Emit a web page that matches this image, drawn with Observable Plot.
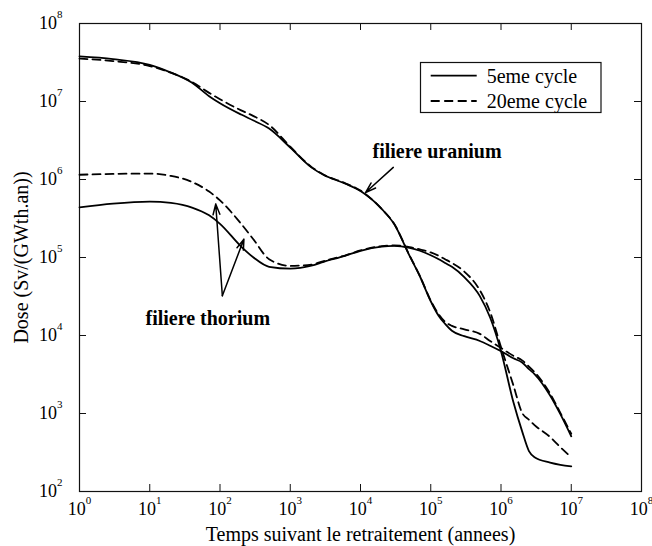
<!DOCTYPE html>
<html>
<head>
<meta charset="utf-8">
<script src="https://cdn.jsdelivr.net/npm/d3@7"></script>
<script src="https://cdn.jsdelivr.net/npm/@observablehq/plot@0.6"></script>
<style>
  body { margin: 0; background: #fff; }
  #chart { width: 652px; height: 546px; }
</style>
</head>
<body>
<div id="chart"></div>
<script>
// ---- data ----
const years = [1, 3, 10, 20, 40, 70, 100, 200, 300, 500, 1e3, 2e3, 3e3, 6e3, 1e4, 2e4, 3e4, 5e4, 7e4, 1e5,
               1.3e5, 1.6e5, 2e5, 3e5, 5e5, 7e5, 1e6, 1.5e6, 2e6, 2.5e6, 3e6, 5e6, 7e6, 1e7];
const uranium5 = [3.78e7, 3.5e7, 2.95e7, 2.35e7, 1.74e7, 1.17e7, 9.5e6, 6.8e6, 5.7e6, 4.5e6, 2.57e6, 1.43e6, 1.14e6,
                  8.9e5, 7.1e5, 4.2e5, 2.7e5, 1.05e5, 5.75e4, 2.75e4, 1.78e4, 1.41e4, 1.15e4, 9.8e3, 8.5e3, 7.4e3,
                  6.3e3, 5.1e3, 4.5e3, 3.7e3, 3.2e3, 1.7e3, 980, 510];
const uranium20 = [3.55e7, 3.3e7, 2.85e7, 2.34e7, 1.78e7, 1.29e7, 1.07e7, 7.7e6, 6.5e6, 5.0e6, 2.63e6, 1.45e6, 1.15e6,
                   9.0e5, 7.2e5, 4.2e5, 2.72e5, 1.06e5, 5.8e4, 2.8e4, 1.86e4, 1.5e4, 1.33e4, 1.2e4, 1.05e4, 8.5e3,
                   6.9e3, 5.5e3, 4.8e3, 4.0e3, 3.4e3, 1.8e3, 1.02e3, 550];
const thorium5 = [4.38e5, 4.9e5, 5.2e5, 5.0e5, 4.37e5, 3.47e5, 2.7e5, 1.38e5, 1.0e5, 7.6e4, 7.2e4, 7.85e4, 8.8e4,
                  1.05e5, 1.22e5, 1.38e5, 1.41e5, 1.33e5, 1.22e5, 1.07e5, 9.5e4, 8.5e4, 7.6e4, 5.6e4, 3.2e4, 1.7e4,
                  6.3e3, 1.4e3, 590, 330, 275, 235, 220, 210];
const thorium20 = [1.15e6, 1.18e6, 1.19e6, 1.11e6, 9.3e5, 7.0e5, 5.4e5, 2.7e5, 1.7e5, 9.5e4, 7.8e4, 8.1e4, 9.0e4,
                   1.06e5, 1.23e5, 1.40e5, 1.43e5, 1.36e5, 1.27e5, 1.16e5, 1.05e5, 9.5e4, 8.5e4, 6.6e4, 3.8e4, 2.0e4,
                   7.1e3, 2.3e3, 1.02e3, 830, 710, 500, 370, 275];

const xTicks = [1, 1e1, 1e2, 1e3, 1e4, 1e5, 1e6, 1e7, 1e8];
const yTicks = [1e2, 1e3, 1e4, 1e5, 1e6, 1e7, 1e8];
const xTitle = "Temps suivant le retraitement (annees)";
const yTitle = "Dose (Sv/(GWth.an))";
const legendLabels = ["5eme cycle", "20eme cycle"];

const noteLabels = ["filiere uranium", "filiere thorium"];
const noteYears = [1.23e5, 67];
const noteDoses = [2.25e6, 1.67e4];

const arrowFromYears = [2.93e4, 108, 108];
const arrowFromDoses = [1.43e6, 3.23e4, 3.23e4];
const arrowToYears = [1.18e4, 86.9, 219];
const arrowToDoses = [6.8e5, 4.84e5, 1.72e5];

// ---- build tables ----
const rows = (vals) => years.map((t, i) => ({t, d: vals[i]}));
const notes = noteLabels.map((text, i) => ({text, t: noteYears[i], d: noteDoses[i]}));
const arrows = arrowFromYears.map((_, i) => ({x1: arrowFromYears[i], y1: arrowFromDoses[i], x2: arrowToYears[i], y2: arrowToDoses[i]}));
const fmt = d => "10^" + Math.round(Math.log10(d));

const W = 652, H = 546, mL = 79, mR = 11, mT = 23, mB = 55;
const pw = W - mL - mR, ph = H - mT - mB, tl = 7;
const serif = "'Liberation Serif', 'Times New Roman', serif";

const node = Plot.plot({
  width: W, height: H,
  marginLeft: mL, marginRight: mR, marginTop: mT, marginBottom: mB,
  style: {fontFamily: serif, fontSize: "18px", color: "#000", background: "#fff"},
  x: {type: "log", domain: [1, 1e8]},
  y: {type: "log", domain: [1e2, 1e8]},
  marks: [
    Plot.tickX(xTicks, {x: d => d, insetTop: ph - tl, stroke: "#111"}),
    Plot.tickX(xTicks, {x: d => d, insetBottom: ph - tl, stroke: "#111"}),
    Plot.tickY(yTicks, {y: d => d, insetRight: pw - tl, stroke: "#111"}),
    Plot.tickY(yTicks, {y: d => d, insetLeft: pw - tl, stroke: "#111"}),
    Plot.frame({stroke: "#111", strokeWidth: 1.2}),
    Plot.axisX({ticks: xTicks, tickSize: 0, tickPadding: 11, tickFormat: fmt, fontSize: 18, label: null}),
    Plot.axisY({ticks: yTicks, tickSize: 0, tickPadding: 17, tickFormat: fmt, fontSize: 18, label: null}),
    Plot.line(rows(uranium5), {x: "t", y: "d", curve: "monotone-x", stroke: "#000", strokeWidth: 1.8}),
    Plot.line(rows(uranium20), {x: "t", y: "d", curve: "monotone-x", stroke: "#000", strokeWidth: 1.8, strokeDasharray: "8,5"}),
    Plot.line(rows(thorium5), {x: "t", y: "d", curve: "monotone-x", stroke: "#000", strokeWidth: 1.8}),
    Plot.line(rows(thorium20), {x: "t", y: "d", curve: "monotone-x", stroke: "#000", strokeWidth: 1.8, strokeDasharray: "8,5"}),
    Plot.arrow(arrows, {x1: "x1", y1: "y1", x2: "x2", y2: "y2", stroke: "#000", strokeWidth: 1.5, headLength: 11, headAngle: 36}),
    Plot.text(notes, {x: "t", y: "d", text: "text", fontSize: 20, fontWeight: "bold", fill: "#000"}),
    Plot.text([xTitle], {text: d => d, frameAnchor: "bottom", dy: 43, lineAnchor: "middle", textAnchor: "middle", fontSize: 20, fill: "#000"}),
    Plot.text([yTitle], {text: d => d, frameAnchor: "left", dx: -58, rotate: -90, lineAnchor: "middle", textAnchor: "middle", fontSize: 20, fill: "#000"})
  ]
});

const svgEl = node.tagName.toLowerCase() === "svg" ? node : node.querySelector("svg");
// superscript exponents on tick labels
svgEl.querySelectorAll("text, tspan").forEach(el => {
  if (el.children.length === 0 && el.textContent.includes("^")) {
    const [base, exp] = el.textContent.split("^");
    el.textContent = base;
    const t = document.createElementNS("http://www.w3.org/2000/svg", "tspan");
    t.setAttribute("dy", "-11");
    t.setAttribute("font-size", "11");
    t.textContent = exp;
    el.appendChild(t);
  }
});

// legend box (inside the plot, top right)
const g = d3.select(svgEl).append("g").attr("font-family", serif).attr("font-size", 20).attr("text-anchor", "start");
g.append("rect").attr("x", 420.5).attr("y", 62.5).attr("width", 180.5).attr("height", 50)
  .attr("fill", "#fff").attr("stroke", "#111").attr("stroke-width", 1.2);
const rowY = [75.7, 101];
legendLabels.forEach((lab, i) => {
  g.append("line").attr("x1", 430.7).attr("x2", 476.7).attr("y1", rowY[i]).attr("y2", rowY[i])
    .attr("stroke", "#000").attr("stroke-width", 1.8).attr("stroke-dasharray", i === 0 ? null : "9,4.5");
  g.append("text").attr("x", 486.7).attr("y", rowY[i] + 7).attr("fill", "#000").attr("text-anchor", "start").text(lab);
});

document.getElementById("chart").appendChild(node);
</script>
</body>
</html>
